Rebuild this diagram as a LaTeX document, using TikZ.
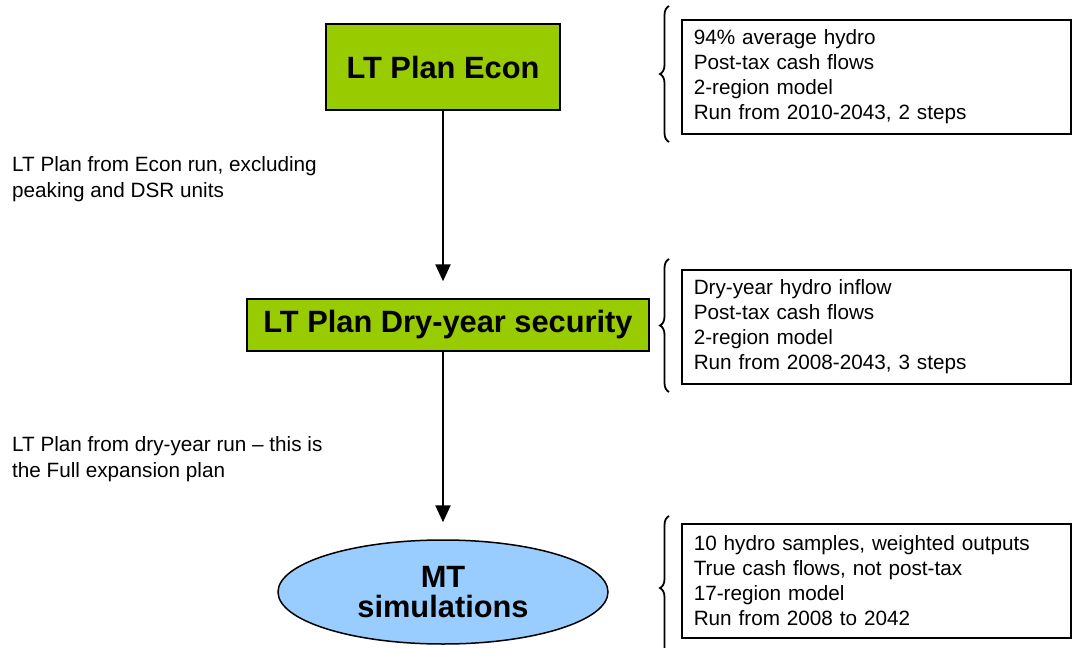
\documentclass[tikz,border=0pt]{standalone}
\usepackage{fontspec}
\setmainfont{Liberation Sans}
\usetikzlibrary{shapes.geometric,arrows.meta,decorations.pathreplacing}
\definecolor{plangreen}{RGB}{153,204,0}
\definecolor{simblue}{RGB}{153,204,255}
\begin{document}
\begin{tikzpicture}[x=1pt,y=-1pt,
    planbox/.style={draw,line width=1.5pt,fill=plangreen,inner sep=0pt,
      font=\fontsize{30.8}{30}\selectfont\bfseries},
    simnode/.style={ellipse,draw,line width=1.5pt,fill=simblue,inner sep=0pt,
      minimum width=330pt,minimum height=104pt,align=center,
      font=\fontsize{30.8}{30}\selectfont\bfseries},
    infobox/.style={draw,line width=1.5pt,anchor=north west,inner xsep=12pt,inner ysep=0pt,
      minimum width=389pt,minimum height=114pt,text width=365pt,align=left,
      font=\fontsize{20.7}{25}\selectfont},
    note/.style={anchor=north west,inner sep=0pt,align=left,
      font=\fontsize{20.7}{26}\selectfont},
    flow/.style={line width=2.5pt,-{Triangle[width=15pt,length=17pt]},shorten >=17pt},
    bracket/.style={decorate,decoration={brace,amplitude=9pt},line width=1.8pt}]
\useasboundingbox (0,0) rectangle (1072,648);
\clip (0,0) rectangle (1072,648);
\node[planbox,minimum width=234pt,minimum height=86pt] (econ) at (443,67) {LT Plan Econ};
\node[planbox,minimum width=402pt,minimum height=52pt] (dry) at (448,325) {LT Plan Dry-year security};
\node[simnode] (mtsim) at (443,592) {MT\\simulations};
\draw[flow] (econ.south) -- (econ.south |- dry.north);
\draw[flow] (mtsim |- dry.south) -- (mtsim.north);
\node[note] (noteecon) at (12,156) {LT Plan from Econ run, excluding\\peaking and DSR units};
\node[note] (notedry) at (12,436) {LT Plan from dry-year run -- this is\\the Full expansion plan};
\node[infobox] (infoecon) at (681,19) {94\% average hydro\\Post-tax cash flows\\2-region model\\Run from 2010-2043, 2 steps};
\node[infobox] (infodry) at (681,269) {Dry-year hydro inflow\\Post-tax cash flows\\2-region model\\Run from 2008-2043, 3 steps};
\node[infobox] (infomt) at (681,523) {10 hydro samples, weighted outputs\\True cash flows, not post-tax\\17-region model\\Run from 2008 to 2042};
\draw[bracket] (669,142) -- (669,6);
\draw[bracket] (669,392) -- (669,259);
\draw[bracket] (669,660) -- (669,516);
\end{tikzpicture}
\end{document}
